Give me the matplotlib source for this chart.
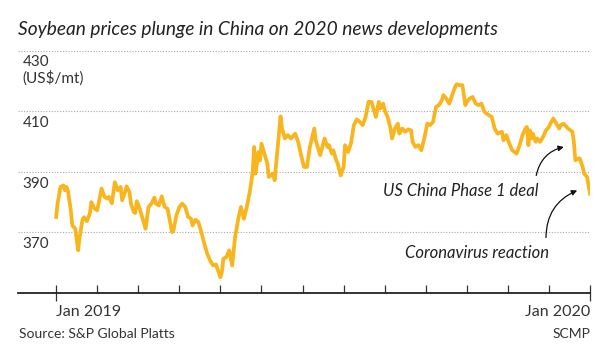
import datetime as dt
import matplotlib
matplotlib.use("Agg")
import matplotlib.pyplot as plt

# days after 1 Jan 2019
days = [0, 1.4, 3.6, 5.5, 6.6, 7.7, 8.9, 10.5, 11.7, 13.2, 15.6, 16.7, 18.0, 19.7, 21.5,
        23.1, 24.9, 26.5, 28.3, 31.1, 33.4, 35.6, 36.8, 38.4, 40.7, 42.5, 44.4, 45.9, 47.5,
        48.9, 50.5, 51.6, 53.5, 54.6, 55.7, 57.4, 59.2, 61.2, 63.1, 65.3, 67.2, 68.8, 70.6,
        72.7, 74.5, 76.3, 79.0, 80.9, 82.5, 84.8, 86.4, 88.2, 90.5, 92.3, 93.9, 95.5,
        97.3, 99.2, 101.5, 103.0, 105.4, 107.1, 109.2, 110.6, 112.2, 113.3, 114.7, 116.7,
        118.4, 120.2, 122.0, 124.3, 126.6, 128.7, 130.5, 132.3, 134.4, 135.7, 136.6, 138.0,
        139.6, 140.7, 142.6, 144.2, 145.8, 148.1, 149.4, 150.3, 151.5, 153.3, 154.4, 156.3,
        158.6, 160.9, 163.1, 165.4, 167.7, 169.3, 171.6, 173.9, 176.2, 177.7, 180.1, 183.0,
        185.3, 186.9, 188.3, 189.9, 191.5, 192.8, 194.5, 196.3, 197.9, 199.7, 201.3, 203.1,
        205.2, 207.0, 209.3, 211.6, 213.9, 215.7, 217.3, 218.9, 220.7, 221.9, 223.0, 224.8,
        226.4, 228.1, 229.4, 231.7, 233.3, 234.4, 236.7, 238.6, 240.1, 242.5, 243.6, 245.4,
        247.7, 249.3, 251.6, 253.2, 255.5, 257.7, 259.6, 261.4, 263.0, 264.6, 266.5, 268.2,
        270.6, 272.1, 273.7, 275.6, 277.4, 279.0, 280.6, 282.9, 284.7, 286.5, 288.8, 290.4,
        292.7, 295.0, 297.3, 299.6, 301.8, 304.2, 305.7, 307.6, 309.4, 311.7, 314.0, 316.2,
        318.6, 320.8, 321.7, 322.4, 323.6, 324.7, 325.8, 327.0, 328.6, 330.4, 332.7, 334.5,
        336.1, 337.7, 339.5, 341.4, 343.0, 344.6, 346.4, 348.2, 349.8, 352.1, 353.2, 354.4,
        356.0, 357.4, 359.0, 360.6, 362.4, 364.2]
# US$/mt
price = [375.1, 379.6, 385.0, 385.5, 383.9, 385.0, 383.9, 377.3, 372.3, 371.3, 364.1, 368.4,
         374.3, 375.0, 373.7, 376.3, 380.0, 377.9, 377.3, 384.5, 381.7, 381.2, 381.7, 379.6,
         386.6, 383.9, 385.0, 380.6, 383.3, 385.2, 383.3, 379.5, 376.7, 376.4, 380.3, 377.8,
         374.5, 371.2, 378.4, 379.5, 381.5, 379.5, 378.9, 381.9, 378.4, 377.8, 370.1, 370.7,
         375.6, 378.4, 379.5, 378.4, 375.1, 374.5, 372.3, 374.2, 373.4, 370.1, 366.3, 363.0,
         360.7, 359.1, 359.4, 358.0, 355.2, 356.9, 361.3, 361.8, 364.1, 359.1, 368.4, 374.0,
         378.4, 374.5, 378.4, 383.3, 389.9, 398.2, 389.4, 396.5, 393.8, 399.3, 396.0, 392.7,
         388.3, 389.4, 387.2, 392.7, 397.7, 408.3, 404.3, 401.0, 402.1, 401.0, 402.6, 399.9,
         395.5, 391.6, 391.6, 398.2, 404.3, 400.4, 395.5, 401.0, 398.2, 398.8, 396.0, 397.1,
         393.8, 392.7, 388.8, 391.6, 398.8, 396.5, 399.3, 405.4, 407.3, 406.5, 405.4, 408.1,
         413.1, 413.1, 409.8, 408.1, 413.1, 410.9, 412.5, 410.3, 408.1, 404.3, 401.0, 404.3,
         405.9, 402.6, 404.3, 403.2, 404.0, 403.7, 399.9, 398.2, 398.8, 397.1, 401.0, 405.9,
         405.4, 406.5, 411.4, 412.0, 413.6, 415.3, 414.2, 412.5, 415.3, 418.0, 418.9, 418.6,
         418.6, 412.0, 413.1, 414.2, 414.7, 412.5, 412.0, 412.5, 409.8, 408.7, 408.1, 404.3,
         402.6, 403.2, 400.4, 402.1, 399.3, 397.1, 396.0, 398.8, 402.1, 404.3, 404.8, 398.8,
         403.7, 401.0, 402.6, 399.9, 401.0, 399.9, 401.5, 403.7, 404.8, 405.9, 407.6, 405.9,
         404.3, 405.4, 405.9, 404.8, 404.3, 403.2, 399.9, 393.8, 394.4, 394.4, 391.6, 389.4,
         388.3, 382.8]

tick_days = [0, 28, 56, 84, 112, 140, 168, 196, 224, 252, 280, 308, 336, 364]
tick_names = ["Jan 2019", "Jan 2020"]
y_ticks = [430, 410, 390, 370]

start = dt.date(2019, 1, 1)
dates = [start + dt.timedelta(days=d) for d in days]
tick_dates = [start + dt.timedelta(days=d) for d in tick_days]

FONT = "Lato"
line_col = "#F9B51E"

fig = plt.figure(figsize=(6.02, 3.64), dpi=100)
ax = fig.add_axes([18 / 602, 1 - 293 / 364, 572 / 602, 243 / 364])

ax.plot(dates, price, color=line_col, lw=2.7, solid_joinstyle="round", zorder=3)

ax.set_xlim(start - dt.timedelta(days=26.7), start + dt.timedelta(days=364.7))
ax.set_ylim(350, 430.2)

for y in y_ticks:
    ax.axhline(y, color="#a8a8a8", lw=0.8, ls=(0, (1, 1.5)), zorder=1)
    lab = "430\n(US\\$/mt)" if y == 430 else str(y)
    ax.text(0.008, y - 1.6, lab, transform=ax.get_yaxis_transform(), ha="left", va="top",
            fontsize=11, family=FONT, color="#333333", linespacing=1.05)

for s in ["top", "right", "left"]:
    ax.spines[s].set_visible(False)
ax.spines["bottom"].set_color("#222222")
ax.spines["bottom"].set_linewidth(1.3)
ax.set_yticks([])

ax.set_xticks(tick_dates, minor=True)
ax.set_xticks([tick_dates[0], tick_dates[-1]])
ax.set_xticklabels(tick_names, fontsize=11.5, family=FONT, color="#333333")
labs = ax.get_xticklabels()
labs[0].set_ha("left")
labs[1].set_ha("right")
ax.tick_params(axis="x", which="minor", direction="in", length=6, width=0.9, color="#333333")
ax.tick_params(axis="x", which="major", direction="inout", length=11, width=0.9,
               color="#333333", pad=3)

# annotations
ax.annotate("", xy=(start + dt.timedelta(days=348.9), 398.4),
            xytext=(start + dt.timedelta(days=327.7), 387.9),
            arrowprops=dict(arrowstyle="-|>", color="#111111", lw=0.9,
                            connectionstyle="arc3,rad=-0.35", mutation_scale=8))
ax.text(start + dt.timedelta(days=329), 383.6, "US China Phase 1 deal", ha="right",
        va="center", fontsize=12, family=FONT, style="italic", color="#222222")
ax.annotate("", xy=(start + dt.timedelta(days=357.8), 384.2),
            xytext=(start + dt.timedelta(days=334.5), 367.4),
            arrowprops=dict(arrowstyle="-|>", color="#111111", lw=0.9,
                            connectionstyle="arc3,rad=-0.35", mutation_scale=8))
ax.text(start + dt.timedelta(days=336.6), 363.1, "Coronavirus reaction", ha="right",
        va="center", fontsize=12, family=FONT, style="italic", color="#222222")

fig.text(18 / 602, 1 - 30 / 364, "Soybean prices plunge in China on 2020 news developments",
         ha="left", va="center", fontsize=13.8, family=FONT, style="italic", color="#222222")
fig.text(19 / 602, 1 - 334 / 364, "Source: S&P Global Platts", ha="left", va="center",
         fontsize=10, family=FONT, color="#333333")
fig.text(590 / 602, 1 - 334 / 364, "SCMP", ha="right", va="center",
         fontsize=10, family=FONT, color="#333333")

fig.savefig("out.png", dpi=100)
